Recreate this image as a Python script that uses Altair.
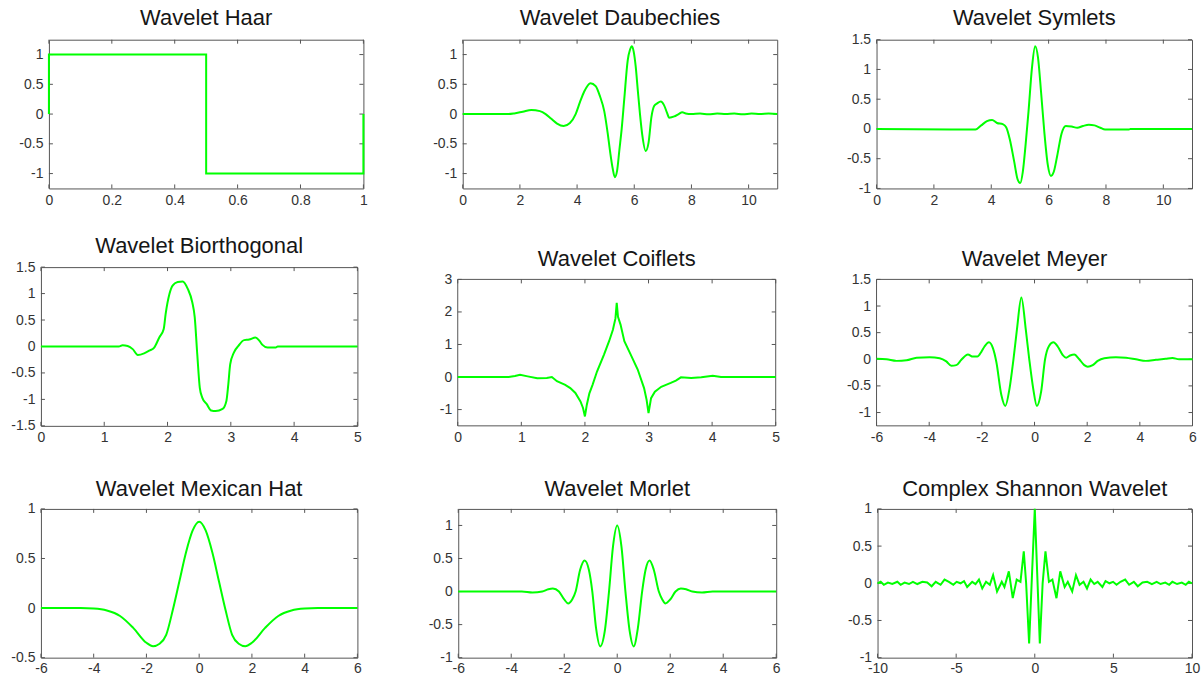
import altair as alt
import pandas as pd

GREEN = "#00ff00"
FRAME = "#555555"
LABEL = "#333333"
TITLE = "#161616"
FONT = "Liberation Sans"

# ---------------- wavelet samples ----------------
haar_x = [0, 0, 0.5, 0.5, 1, 1]
haar_y = [0, 1, 1, -1, -1, 0]

db_x = [0, 1.6, 1.8, 2.1, 2.4, 2.7, 2.9, 3.1, 3.3, 3.53, 3.75, 3.95, 4.1, 4.25, 4.47, 4.65,
        4.8, 4.95, 5.07, 5.16, 5.24, 5.32, 5.4, 5.48, 5.56, 5.65, 5.77, 5.85, 5.92, 5.98,
        6.05, 6.12, 6.2, 6.28, 6.4, 6.5, 6.6, 6.7, 6.8, 6.93, 7.04, 7.14, 7.22, 7.4, 7.55,
        7.68, 7.8, 8.0, 8.3, 8.6, 8.9, 9.2, 9.5, 9.8, 10.1, 10.4, 10.7, 11]
db_y = [0, 0, 0.01, 0.04, 0.07, 0.05, 0.0, -0.08, -0.16, -0.2, -0.15, 0.0, 0.2, 0.38, 0.52,
        0.47, 0.3, 0.05, -0.32, -0.65, -0.9, -1.06, -0.95, -0.6, -0.25, 0.25, 0.9, 1.08, 1.14,
        1.05, 0.8, 0.42, 0.0, -0.35, -0.62, -0.48, -0.05, 0.14, 0.18, 0.21, 0.15, 0.03, -0.06,
        -0.04, 0.0, 0.03, 0.01, 0.0, 0.01, -0.005, 0.01, 0.0, 0.01, -0.005, 0.01, 0.0, 0.008, 0]

sym_x = [0, 2.6, 3.45, 3.65, 3.85, 4.03, 4.2, 4.4, 4.52, 4.65, 4.8, 4.92, 5.01, 5.1, 5.2,
         5.3, 5.42, 5.53, 5.63, 5.74, 5.85, 5.97, 6.08, 6.18, 6.3, 6.45, 6.6, 6.8, 7.0, 7.2,
         7.4, 7.6, 7.8, 7.97, 8.8, 8.85, 11]
sym_y = [0, -0.01, -0.01, 0.06, 0.13, 0.15, 0.1, 0.08, 0.03, -0.18, -0.55, -0.85, -0.91,
         -0.72, -0.25, 0.3, 1.03, 1.39, 1.2, 0.6, -0.05, -0.6, -0.79, -0.72, -0.45, -0.08,
         0.05, 0.04, 0.02, 0.05, 0.07, 0.06, 0.02, -0.01, -0.01, 0, 0]

bior_x = [0, 1.23, 1.29, 1.37, 1.45, 1.53, 1.63, 1.71, 1.79, 1.87, 1.94, 1.97, 2.03, 2.08,
          2.16, 2.24, 2.32, 2.39, 2.43, 2.47, 2.51, 2.55, 2.62, 2.69, 2.76, 2.87, 2.93, 2.96,
          2.99, 3.05, 3.12, 3.21, 3.29, 3.39, 3.45, 3.5, 3.58, 3.71, 3.74, 5]
bior_y = [0, 0, 0.025, 0.01, -0.05, -0.16, -0.13, -0.08, -0.02, 0.17, 0.33, 0.61, 0.99, 1.15,
          1.22, 1.23, 1.09, 0.84, 0.55, -0.15, -0.78, -0.97, -1.09, -1.21, -1.22, -1.18, -1.03,
          -0.72, -0.34, -0.11, 0.01, 0.12, 0.13, 0.17, 0.11, 0.03, -0.02, -0.02, 0, 0]

coif_x = [0, 0.8, 0.9, 0.98, 1.1, 1.25, 1.4, 1.48, 1.56, 1.69, 1.77, 1.85, 1.93, 1.97, 2.0,
          2.03, 2.07, 2.12, 2.19, 2.3, 2.38, 2.44, 2.48, 2.5, 2.52, 2.56, 2.62, 2.72, 2.83,
          2.93, 2.97, 3.0, 3.04, 3.1, 3.2, 3.35, 3.43, 3.51, 3.67, 3.83, 4.01, 4.14, 5]
coif_y = [0, 0, 0.03, 0.07, 0.02, -0.04, -0.03, 0, -0.13, -0.24, -0.34, -0.49, -0.75, -0.95,
          -1.21, -0.85, -0.5, -0.24, 0.17, 0.69, 1.1, 1.45, 1.8, 2.28, 1.85, 1.61, 1.1, 0.69,
          0.23, -0.34, -0.7, -1.11, -0.65, -0.45, -0.3, -0.18, -0.11, -0.01, -0.03, -0.01,
          0.04, 0, 0]

mey_x = [-6, -5.62, -5.24, -4.86, -4.48, -3.98, -3.6, -3.35, -3.16, -2.97, -2.78, -2.53,
         -2.34, -2.17, -2.02, -1.9, -1.73, -1.58, -1.45, -1.26, -1.11, -0.95, -0.8, -0.67,
         -0.5, -0.33, -0.2, -0.05, 0.09, 0.25, 0.4, 0.55, 0.72, 0.88, 1.07, 1.2, 1.35, 1.51,
         1.7, 1.89, 2.02, 2.21, 2.4, 2.65, 3.09, 3.47, 3.85, 4.23, 4.61, 4.98, 5.24, 5.49, 6]
mey_y = [0.01, 0, -0.03, -0.02, 0.03, 0.04, 0.02, -0.04, -0.12, -0.11, -0.01, 0.09, 0.05,
         0.05, 0.14, 0.24, 0.32, 0.21, -0.05, -0.67, -0.875, -0.55, 0.0, 0.55, 1.16, 0.55,
         0.0, -0.55, -0.875, -0.61, 0.0, 0.25, 0.32, 0.24, 0.08, 0.03, 0.07, 0.09, 0, -0.11,
         -0.14, -0.11, -0.03, 0.02, 0.04, 0.03, 0, -0.03, -0.01, 0.01, 0.025, 0, 0]

mh_x = [-6, -4.5, -4, -3.5, -3, -2.5, -2, -1.75, -1.5, -1.25, -1, -0.75, -0.5, -0.25, 0,
        0.25, 0.5, 0.75, 1, 1.25, 1.5, 1.75, 2, 2.5, 3, 3.5, 4, 4.5, 6]
mh_y = [0, 0, -0.005, -0.025, -0.08, -0.2, -0.35, -0.385, -0.36, -0.27, -0.02, 0.27, 0.56,
        0.78, 0.87, 0.78, 0.56, 0.27, -0.02, -0.27, -0.36, -0.385, -0.35, -0.2, -0.08,
        -0.025, -0.005, 0, 0]

ml_x = [-6, -3.6, -3.2, -2.83, -2.6, -2.43, -2.2, -2.0, -1.85, -1.7, -1.57, -1.4, -1.23,
        -1.07, -0.94, -0.8, -0.64, -0.47, -0.31, -0.16, 0, 0.16, 0.31, 0.47, 0.62, 0.78,
        0.94, 1.07, 1.22, 1.38, 1.57, 1.7, 1.82, 2.0, 2.2, 2.4, 2.6, 2.83, 3.2, 3.6, 6]
ml_y = [0, 0, -0.015, 0, 0.035, 0.046, 0, -0.12, -0.18, -0.12, 0, 0.33, 0.47, 0.33, 0, -0.55,
        -0.83, -0.6, 0, 0.68, 1.0, 0.68, 0, -0.6, -0.83, -0.55, 0, 0.33, 0.47, 0.33, 0, -0.12,
        -0.18, -0.12, 0, 0.046, 0.035, 0, -0.015, 0, 0]

sh_x = [-10, -9.8, -9.6, -9.34, -9.06, -8.74, -8.53, -8.28, -8.0, -7.75, -7.47, -7.15, -6.84,
        -6.56, -6.3, -5.99, -5.74, -5.46, -5.18, -4.97, -4.72, -4.5, -4.3, -3.98, -3.77,
        -3.55, -3.34, -3.1, -2.86, -2.65, -2.4, -2.1, -1.93, -1.65, -1.4, -1.15, -0.91, -0.7,
        -0.55, -0.36, -0.18, 0, 0.16, 0.32, 0.5, 0.68, 0.9, 1.12, 1.38, 1.62, 1.9, 2.1, 2.38,
        2.62, 2.85, 3.1, 3.32, 3.55, 3.78, 4.0, 4.3, 4.5, 4.75, 4.98, 5.2, 5.45, 5.75, 6.0,
        6.3, 6.55, 6.85, 7.15, 7.45, 7.75, 8.0, 8.3, 8.55, 8.75, 9.05, 9.35, 9.6, 9.8, 10]
sh_y = [0.0, 0.02, -0.02, 0.01, -0.01, 0.02, -0.02, 0.01, -0.01, 0.02, -0.01, 0.02, 0.01,
        -0.04, 0.02, -0.02, 0.05, 0.02, -0.02, 0.02, 0, 0.03, -0.05, 0.02, -0.01, 0.05, -0.07,
        0.02, -0.02, 0.11, -0.11, 0.02, -0.05, 0.16, -0.2, 0.05, 0.02, 0.43, 0.0, -0.81, 0.1,
        1.0, 0.1, -0.81, 0.0, 0.43, 0.02, 0.05, -0.2, 0.16, -0.05, 0.02, -0.11, 0.11, -0.02,
        0.02, -0.07, 0.05, -0.01, 0.02, -0.05, 0.03, 0, 0.02, -0.02, 0.02, 0.05, -0.02, 0.02,
        -0.04, 0.01, 0.02, -0.01, 0.02, -0.01, 0.01, -0.02, 0.02, -0.01, 0.01, -0.02, 0.02, 0.0]


def panel(title, xs, ys, xdom, ydom, xticks, yticks, w, h, extent=30, frame_top=0,
          interp="monotone", title_offset=-8.0, xpad=5):
    df = pd.DataFrame({"x": xs, "y": ys, "i": list(range(len(xs)))})
    xscale = alt.Scale(domain=xdom, nice=False, zero=False)
    if frame_top:
        yscale = alt.Scale(domain=ydom, nice=False, zero=False, range=[h, frame_top])
    else:
        yscale = alt.Scale(domain=ydom, nice=False, zero=False)
    label_expr = "replace(toString(datum.value), '\u2212', '-')"
    xaxis = alt.Axis(values=xticks, ticks=False, domain=False, grid=False, labelPadding=xpad,
                     labelFlush=False, labelOverlap=False, labelFontSize=14, labelFont=FONT,
                     labelColor=LABEL, title=None, labelExpr=label_expr)
    yaxis = alt.Axis(values=yticks, ticks=False, domain=False, grid=False, labelPadding=6,
                     labelFlush=False, labelOverlap=False, labelFontSize=14, labelFont=FONT,
                     labelColor=LABEL, title=None, labelExpr=label_expr, minExtent=extent,
                     maxExtent=extent)

    curve = alt.Chart(df).mark_line(color=GREEN, strokeWidth=2, interpolate=interp).encode(
        x=alt.X("x:Q", scale=xscale, axis=xaxis),
        y=alt.Y("y:Q", scale=yscale, axis=yaxis),
        order="i:Q",
    )
    xt = pd.DataFrame({"x": xticks})
    yt = pd.DataFrame({"y": yticks})
    tick_len = 4
    bottom = alt.Chart(xt).mark_rule(color=FRAME, strokeWidth=1).encode(
        x=alt.X("x:Q", scale=xscale, axis=xaxis), y=alt.value(h), y2=alt.value(h - tick_len))
    top = alt.Chart(xt).mark_rule(color=FRAME, strokeWidth=1).encode(
        x=alt.X("x:Q", scale=xscale, axis=xaxis), y=alt.value(frame_top),
        y2=alt.value(frame_top + tick_len))
    left = alt.Chart(yt).mark_rule(color=FRAME, strokeWidth=1).encode(
        y=alt.Y("y:Q", scale=yscale, axis=yaxis), x=alt.value(0), x2=alt.value(tick_len))
    right = alt.Chart(yt).mark_rule(color=FRAME, strokeWidth=1).encode(
        y=alt.Y("y:Q", scale=yscale, axis=yaxis), x=alt.value(w), x2=alt.value(w - tick_len))
    layers = [bottom, top, left, right]
    if frame_top:
        box = alt.Chart(pd.DataFrame({"k": [0]})).mark_rect(
            filled=False, stroke=FRAME, strokeWidth=1).encode(
            x=alt.value(0), x2=alt.value(w), y=alt.value(frame_top), y2=alt.value(h))
        layers.append(box)
    layers.append(curve)
    ttl = alt.TitleParams(title, fontSize=22, font=FONT, color=TITLE, fontWeight="normal",
                          baseline="alphabetic", anchor="middle", offset=title_offset)
    props = dict(width=w, height=h, title=ttl)
    if frame_top:
        props["view"] = alt.ViewBackground(stroke="transparent")
    return alt.layer(*layers).properties(**props)


unit_ticks = [-1, -0.5, 0, 0.5, 1]
sym_ticks = [-1, -0.5, 0, 0.5, 1, 1.5]

p1 = panel("Wavelet Haar", haar_x, haar_y, [0, 1], [-1.25, 1.25],
           [0, 0.2, 0.4, 0.6, 0.8, 1], unit_ticks, 315, 149, interp="linear",
           title_offset=-8)
p2 = panel("Wavelet Daubechies", db_x, db_y, [0, 11], [-1.25, 1.25],
           [0, 2, 4, 6, 8, 10], unit_ticks, 315, 149, title_offset=-8)
p3 = panel("Wavelet Symlets", sym_x, sym_y, [0, 11], [-1, 1.5],
           [0, 2, 4, 6, 8, 10], sym_ticks, 316, 149, title_offset=-14)

p4 = panel("Wavelet Biorthogonal", bior_x, bior_y, [0, 5], [-1.5, 1.5],
           [0, 1, 2, 3, 4, 5], [-1.5, -1, -0.5, 0, 0.5, 1, 1.5], 317, 159, extent=35,
           title_offset=-14.7)
p5 = panel("Wavelet Coiflets", coif_x, coif_y, [0, 5], [-1.5, 3],
           [0, 1, 2, 3, 4, 5], [-1, 0, 1, 2, 3], 318.5, 159, frame_top=12.3,
           interp="linear", title_offset=-21)
p6 = panel("Wavelet Meyer", mey_x, mey_y, [-6, 6], [-1.25, 1.5],
           [-6, -4, -2, 0, 2, 4, 6], sym_ticks, 316.5, 159, frame_top=12.3,
           title_offset=-21)

p7 = panel("Wavelet Mexican Hat", mh_x, mh_y, [-6, 6], [-0.5, 1],
           [-6, -4, -2, 0, 2, 4, 6], [-0.5, 0, 0.5, 1], 317, 149, extent=35,
           title_offset=-16, xpad=4)
p8 = panel("Wavelet Morlet", ml_x, ml_y, [-6, 6], [-1, 1.25],
           [-6, -4, -2, 0, 2, 4, 6], unit_ticks, 318.5, 149, title_offset=-10, xpad=4)
p9 = panel("Complex Shannon Wavelet", sh_x, sh_y, [-10, 10], [-1, 1],
           [-10, -5, 0, 5, 10], unit_ticks, 315, 149, interp="linear", title_offset=-16,
           xpad=4)

# narrow blank cell that indents the first row
indent = alt.Chart(pd.DataFrame({"k": [0]})).mark_point(opacity=0).encode(
    x=alt.value(0), y=alt.value(0)).properties(
    width=8, height=1, view=alt.ViewBackground(stroke="transparent"))

row1 = alt.hconcat(indent, alt.hconcat(p1, p2, p3, spacing=99.5, bounds="flush"),
                   spacing=0, bounds="flush")
row2 = alt.hconcat(p4, p5, p6, spacing=100.5, bounds="flush")
row3 = alt.hconcat(p7, p8, p9, spacing=101, bounds="flush")

chart = alt.vconcat(alt.vconcat(row1, row2, spacing=25.8), row3, spacing=31).configure_view(
    stroke=FRAME, strokeWidth=1).properties(
    padding={"left": 5, "top": 5.2, "right": 0, "bottom": 0}, background="white")

chart.save("out.html", embed_options={"renderer": "svg", "actions": False})
